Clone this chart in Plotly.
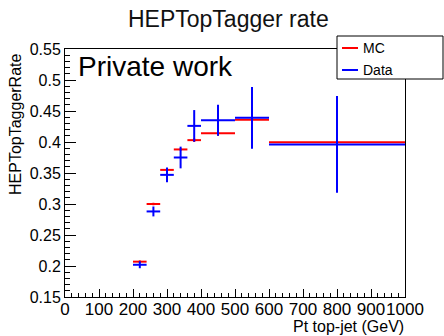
import plotly.graph_objects as go

# Bin centres and half-widths (GeV)
pt_center = [220, 260, 300, 340, 380, 450, 550, 800]
pt_halfwidth = [20, 20, 20, 20, 20, 50, 50, 200]

mc_rate = [0.207, 0.300, 0.355, 0.388, 0.403, 0.414, 0.436, 0.3995]
mc_err = [0.002, 0.002, 0.002, 0.002, 0.003, 0.004, 0.008, 0.024]

data_rate = [0.202, 0.288, 0.347, 0.375, 0.426, 0.435, 0.439, 0.396]
data_err = [0.0056, 0.008, 0.012, 0.0175, 0.0255, 0.025, 0.0497, 0.078]

x_ticks = list(range(0, 1001, 100))
y_ticks = [0.15, 0.2, 0.25, 0.3, 0.35, 0.4, 0.45, 0.5, 0.55]
y_ticklabels = ["0.15", "0.2", "0.25", "0.3", "0.35", "0.4", "0.45", "0.5", "0.55"]

FONT = "Liberation Sans, Arial, sans-serif"

fig = go.Figure()

def add_series(y, yerr, color, name):
    fig.add_trace(go.Scatter(
        x=pt_center, y=y, mode="markers", name=name,
        marker=dict(size=1, color=color, opacity=0),
        error_x=dict(type="data", array=pt_halfwidth, color=color, thickness=2, width=0, visible=True),
        error_y=dict(type="data", array=yerr, color=color, thickness=2, width=0, visible=True),
        showlegend=False, hoverinfo="skip",
    ))

add_series(mc_rate, mc_err, "#ff0000", "MC")
add_series(data_rate, data_err, "#0000ff", "Data")

L, R, T, B = 65, 39, 49, 39
W, H = 444, 336
pw, ph = W - L - R, H - T - B

def px(xp):
    return (xp - L) / pw

def py(yp):
    return (H - B - yp) / ph

shapes = [
    dict(type="rect", xref="paper", yref="paper", x0=px(337), x1=px(443), y0=py(79), y1=py(36),
         line=dict(color="black", width=1), fillcolor="white", layer="above"),
    dict(type="line", xref="paper", yref="paper", x0=px(342), x1=px(358), y0=py(48), y1=py(48),
         line=dict(color="#ff0000", width=2), layer="above"),
    dict(type="line", xref="paper", yref="paper", x0=px(342), x1=px(358), y0=py(70), y1=py(70),
         line=dict(color="#0000ff", width=2), layer="above"),
]

annotations = [
    dict(text="MC", xref="paper", yref="paper", x=px(361), y=py(48), xanchor="left", yanchor="middle",
         showarrow=False, font=dict(family=FONT, size=14, color="black")),
    dict(text="Data", xref="paper", yref="paper", x=px(361), y=py(70), xanchor="left", yanchor="middle",
         showarrow=False, font=dict(family=FONT, size=14, color="black")),
    dict(text="Private work", xref="paper", yref="paper", x=px(76), y=py(66), xanchor="left", yanchor="middle",
         showarrow=False, font=dict(family=FONT, size=28, color="black")),
    dict(text="HEPTopTagger rate", xref="paper", yref="paper", x=px(228), y=py(19), xanchor="center", yanchor="middle",
         showarrow=False, font=dict(family=FONT, size=23, color="#111111")),
    dict(text="Pt top-jet (GeV)", xref="paper", yref="paper", x=px(406), y=py(326), xanchor="right", yanchor="middle",
         showarrow=False, font=dict(family=FONT, size=16, color="black")),
    dict(text="HEPTopTaggerRate", xref="paper", yref="paper", x=px(16), y=py(124), xanchor="center", yanchor="middle",
         textangle=-90, showarrow=False, font=dict(family=FONT, size=16, color="black")),
]

fig.update_layout(
    width=W, height=H, margin=dict(l=L, r=R, t=T, b=B, pad=0, autoexpand=False),
    paper_bgcolor="white", plot_bgcolor="white",
    shapes=shapes, annotations=annotations, showlegend=False,
    xaxis=dict(range=[0, 1000], tickvals=x_ticks, ticks="inside", ticklen=8, tickwidth=1, tickcolor="black",
               showline=True, linecolor="black", linewidth=1, mirror=True, showgrid=False, zeroline=False,
               tickangle=0, automargin=False,
               tickfont=dict(family=FONT, size=17, color="black"), ticklabelstandoff=-3,
               minor=dict(dtick=20, ticks="inside", ticklen=4, tickcolor="black", showgrid=False)),
    yaxis=dict(range=[0.15, 0.55], tickvals=y_ticks, ticktext=y_ticklabels, ticks="inside", ticklen=11, tickwidth=1,
               tickcolor="black", showline=True, linecolor="black", linewidth=1, mirror=True, showgrid=False,
               zeroline=False, automargin=False, tickfont=dict(family=FONT, size=16, color="black"),
               minor=dict(dtick=0.01, ticks="inside", ticklen=5, tickcolor="black", showgrid=False)),
)

fig.write_html("out.html")
